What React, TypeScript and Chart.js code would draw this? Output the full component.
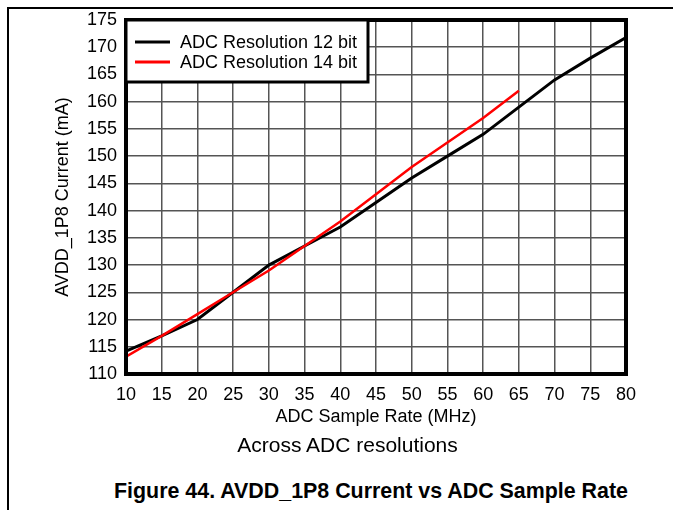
import React, { useEffect, useRef } from 'react';
import { Chart, registerables } from 'chart.js';

Chart.register(...registerables);

// ---- Data ----
const sampleRate12 = [10, 15, 20, 25, 30, 35, 40, 45, 50, 55, 60, 65, 70, 75, 80];
const current12 = [114.2, 117, 120, 125, 130, 133.5, 137, 141.5, 146, 150, 154, 159, 164, 168, 171.8];
const sampleRate14 = [10, 15, 20, 25, 30, 35, 40, 45, 50, 55, 60, 65];
const current14 = [113.2, 117, 121, 125, 129, 133.5, 138, 143, 148, 152.5, 157, 162];
const seriesLabels = ['ADC Resolution 12 bit', 'ADC Resolution 14 bit'];
const seriesColors = ['#000000', '#ff0000'];
const xTitle = 'ADC Sample Rate (MHz)';
const yTitle = 'AVDD_1P8 Current (mA)';
const subtitle = 'Across ADC resolutions';
const caption = 'Figure 44. AVDD_1P8 Current vs ADC Sample Rate';
const xMin = 10, xMax = 80, xStep = 5;
const yMin = 110, yMax = 175, yStep = 5;

const FONT = "'Liberation Sans', Arial, Helvetica, sans-serif";

const frameLegendPlugin = {
  id: 'frameLegend',
  afterDatasetsDraw(chart: any) {
    const { ctx, chartArea: a } = chart;
    ctx.save();
    ctx.strokeStyle = '#000';
    ctx.lineWidth = 4;
    ctx.strokeRect(a.left, a.top, a.right - a.left, a.bottom - a.top);
    // legend box inside plot, top-left
    const boxW = 242, boxH = 62;
    ctx.fillStyle = '#fff';
    ctx.fillRect(a.left, a.top, boxW, boxH);
    ctx.lineWidth = 3;
    ctx.strokeStyle = '#000';
    ctx.strokeRect(a.left, a.top, boxW, boxH);
    ctx.font = `18px ${FONT}`;
    ctx.textBaseline = 'middle';
    ctx.textAlign = 'left';
    chart.data.datasets.forEach((ds: any, i: number) => {
      const y = Math.round(a.top + 22 + i * 20);
      ctx.strokeStyle = ds.borderColor;
      ctx.lineWidth = 3;
      ctx.beginPath();
      ctx.moveTo(a.left + 9, y);
      ctx.lineTo(a.left + 44, y);
      ctx.stroke();
      ctx.fillStyle = '#000';
      ctx.fillText(ds.label, a.left + 54, y + 1);
    });
    ctx.restore();
  },
};

export default function App() {
  const ref = useRef<HTMLCanvasElement | null>(null);

  useEffect(() => {
    if (!ref.current) return;
    const tickFont = { family: FONT, size: 18 };
    const chart = new Chart(ref.current, {
      type: 'line',
      data: {
        datasets: [
          {
            label: seriesLabels[0],
            data: sampleRate12.map((x, i) => ({ x, y: current12[i] })),
            borderColor: seriesColors[0],
            backgroundColor: seriesColors[0],
            borderWidth: 3,
            pointRadius: 0,
            tension: 0,
            order: 1,
          },
          {
            label: seriesLabels[1],
            data: sampleRate14.map((x, i) => ({ x, y: current14[i] })),
            borderColor: seriesColors[1],
            backgroundColor: seriesColors[1],
            borderWidth: 2.5,
            pointRadius: 0,
            tension: 0,
            order: 0,
          },
        ],
      },
      options: {
        responsive: false,
        animation: false,
        layout: { padding: { left: 40, right: 39, top: 20, bottom: 6 } },
        plugins: {
          legend: { display: false },
          tooltip: { enabled: false },
        },
        scales: {
          x: {
            type: 'linear',
            min: xMin,
            max: xMax,
            ticks: {
              stepSize: xStep,
              color: '#000',
              font: tickFont,
              padding: 10,
              maxRotation: 0,
              autoSkip: false,
            },
            grid: { color: '#555', lineWidth: 1.5, drawTicks: false },
            border: { display: false },
            title: {
              display: true,
              text: xTitle,
              color: '#000',
              font: tickFont,
              padding: { top: 4, bottom: 4 },
            },
            afterFit(s: any) {
              s.height = 58;
            },
          },
          y: {
            type: 'linear',
            min: yMin,
            max: yMax,
            ticks: {
              stepSize: yStep,
              color: '#000',
              font: tickFont,
              padding: 9,
              autoSkip: false,
            },
            grid: { color: '#555', lineWidth: 1.5, drawTicks: false },
            border: { display: false },
            title: {
              display: true,
              text: yTitle,
              color: '#000',
              font: tickFont,
              padding: { top: 4, bottom: 4 },
            },
            afterFit(s: any) {
              s.width = 78;
            },
          },
        },
      },
      plugins: [frameLegendPlugin],
    } as any);
    return () => chart.destroy();
  }, []);

  return (
    <div
      style={{
        position: 'fixed',
        left: 0,
        top: 0,
        width: 673,
        height: 510,
        overflow: 'hidden',
        background: '#fff',
        fontFamily: FONT,
        color: '#000',
      }}
    >
      <div
        style={{
          position: 'absolute',
          left: 7,
          top: 7,
          width: 680,
          height: 520,
          borderLeft: '2px solid #000',
          borderTop: '2px solid #000',
        }}
      />
      <canvas
        ref={ref}
        width={657}
        height={438}
        style={{ position: 'absolute', left: 8, top: 0, width: 657, height: 438 }}
      />
      <div
        style={{
          position: 'absolute',
          left: 147.5,
          top: 433.5,
          width: 400,
          textAlign: 'center',
          fontSize: 21,
          lineHeight: '21px',
          whiteSpace: 'nowrap',
        }}
      >
        {subtitle}
      </div>
      <div
        style={{
          position: 'absolute',
          left: 71,
          top: 480.5,
          width: 600,
          textAlign: 'center',
          fontSize: 21.4,
          lineHeight: '21px',
          fontWeight: 'bold',
          whiteSpace: 'nowrap',
        }}
      >
        {caption}
      </div>
    </div>
  );
}
